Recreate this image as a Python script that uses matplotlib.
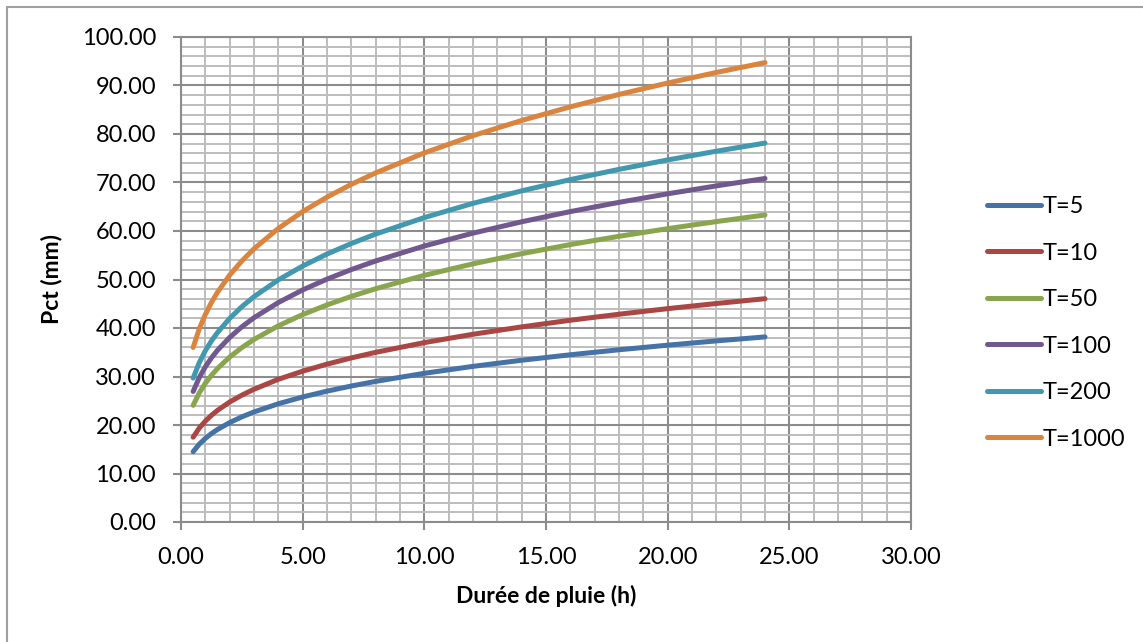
import numpy as np
import matplotlib
matplotlib.use("Agg")
import matplotlib.pyplot as plt
from matplotlib.patches import Rectangle
from matplotlib.ticker import MultipleLocator, FormatStrFormatter

plt.rcParams['font.family'] = ['Lato', 'DejaVu Sans']

# rain duration (h)
duree = [0.5, 0.75, 1, 1.25, 1.5, 2, 2.5, 3, 4, 5, 6, 7, 8, 10, 12, 14, 16, 18, 20, 22, 24]

# Pct (mm) for each return period
t5 = [14.50, 16.04, 17.24, 18.23, 19.08, 20.50, 21.68, 22.69, 24.38, 25.78, 26.98,
      28.04, 28.99, 30.66, 32.09, 33.35, 34.48, 35.51, 36.46, 37.34, 38.16]
t10 = [17.49, 19.36, 20.80, 21.99, 23.02, 24.74, 26.15, 27.37, 29.42, 31.10, 32.55,
       33.83, 34.98, 36.99, 38.71, 40.23, 41.60, 42.84, 43.99, 45.05, 46.04]
t50 = [24.05, 26.62, 28.60, 30.24, 31.65, 34.01, 35.96, 37.64, 40.45, 42.77, 44.76,
       46.52, 48.10, 50.86, 53.23, 55.32, 57.20, 58.91, 60.48, 61.94, 63.30]
t100 = [26.91, 29.78, 32.00, 33.84, 35.41, 38.05, 40.24, 42.12, 45.25, 47.85, 50.08,
        52.05, 53.82, 56.91, 59.56, 61.90, 64.00, 65.91, 67.67, 69.30, 70.83]
t200 = [29.68, 32.85, 35.30, 37.33, 39.07, 41.98, 44.39, 46.46, 49.92, 52.78, 55.25,
        57.42, 59.37, 62.77, 65.70, 68.28, 70.60, 72.71, 74.65, 76.45, 78.13]
t1000 = [35.99, 39.83, 42.80, 45.26, 47.37, 50.90, 53.82, 56.33, 60.53, 64.00, 66.99,
         69.62, 71.98, 76.11, 79.66, 82.79, 85.60, 88.16, 90.51, 92.69, 94.73]

labels = ['T=5', 'T=10', 'T=50', 'T=100', 'T=200', 'T=1000']
colors = ['#4572a7', '#aa4643', '#89a54e', '#71588f', '#4198af', '#db843d']
series = [t5, t10, t50, t100, t200, t1000]

fig = plt.figure(figsize=(11.43, 6.42), dpi=100)
ax = fig.add_axes([181 / 1143, 1 - 522 / 642, 730 / 1143, 485 / 642])

# chart area border (right/bottom edges fall outside the image)
fig.patches.append(Rectangle((7 / 1143, -0.1), 1.2, 1.1 - 7 / 642,
                             transform=fig.transFigure, fill=False,
                             edgecolor='#a0a0a0', linewidth=1.5))

for vals, lab, col in zip(series, labels, colors):
    ax.plot(duree, vals, color=col, linewidth=3.6, label=lab,
            solid_capstyle='round', zorder=3)

ax.set_xlim(0, 30)
ax.set_ylim(0, 100)
ax.xaxis.set_major_locator(MultipleLocator(5))
ax.xaxis.set_minor_locator(MultipleLocator(1))
ax.yaxis.set_major_locator(MultipleLocator(10))
ax.yaxis.set_minor_locator(MultipleLocator(2))
ax.xaxis.set_major_formatter(FormatStrFormatter('%.2f'))
ax.yaxis.set_major_formatter(FormatStrFormatter('%.2f'))

ax.grid(which='minor', color='#bdbdbd', linewidth=1.4, zorder=1)
ax.grid(which='major', color='#8c8c8c', linewidth=1.5, zorder=2)
ax.set_axisbelow(True)
for s in ax.spines.values():
    s.set_color('#8c8c8c')
    s.set_linewidth(1.5)

ax.tick_params(which='major', direction='out', length=6, width=1.5,
               color='#8c8c8c', labelsize=17, pad=12)
ax.tick_params(which='minor', length=0)

ax.set_xlabel('Durée de pluie (h)', fontsize=16.5, fontweight='bold', labelpad=12)
ax.set_ylabel('Pct (mm)', fontsize=16.5, fontweight='bold', labelpad=14)

fig.legend(loc='center left', bbox_to_anchor=(975 / 1143, 1 - 323 / 642),
           frameon=False, fontsize=17, handlelength=2.3, handletextpad=0.05,
           labelspacing=1.08, borderpad=0)

fig.savefig('out.png', dpi=100)
